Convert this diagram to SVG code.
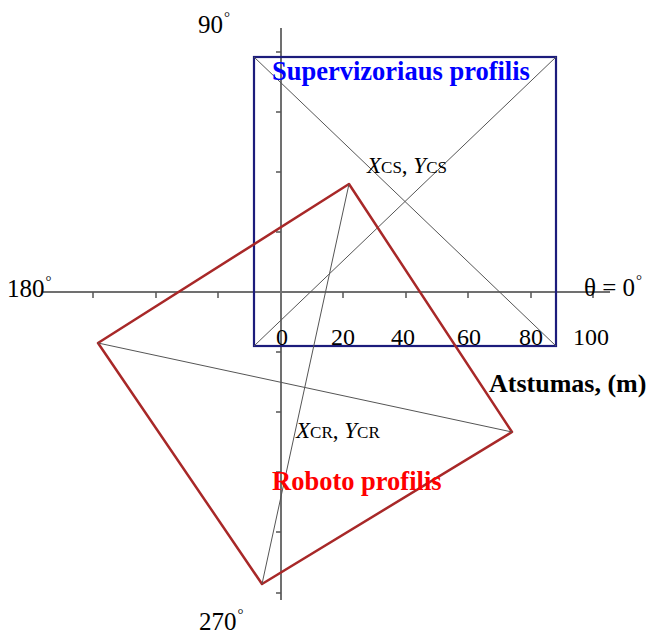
<svg xmlns="http://www.w3.org/2000/svg" width="652" height="634" viewBox="0 0 652 634">
<style>
.t{font-family:"Liberation Serif","Times New Roman",serif;fill:#000}
.b{font-weight:bold}
.ax{stroke:#707070;stroke-width:2;fill:none}
.tk{stroke:#555;stroke-width:1.5;fill:none}
.dg{stroke:#555;stroke-width:1;fill:none}
.deg{font-size:15px}
</style>
<rect width="652" height="634" fill="#fff"/>
<g id="axes">
<line class="ax" x1="281" y1="28" x2="281" y2="600"/>
<line class="ax" x1="43" y1="292" x2="610" y2="292"/>
<path class="tk" d="M276 52H281M276 112H281M276 172H281M276 232H281M276 352H281M276 412H281M276 472H281M276 532H281M276 593H281"/>
<path class="tk" d="M93 292V298M156 292V298M218 292V298M343 292V298M406 292V298M468 292V298M531 292V298M593 292V298"/>
</g>
<g id="supervisor">
<rect x="254" y="57" width="302" height="289" fill="none" stroke="#1c1c7c" stroke-width="2.2"/>
<line class="dg" x1="254" y1="57" x2="556" y2="346"/>
<line class="dg" x1="254" y1="346" x2="556" y2="57"/>
<text class="t b" x="272" y="80" font-size="26.5" style="fill:#0000ff">Supervizoriaus profilis</text>
<text class="t" x="367" y="173" font-size="23"><tspan font-style="italic">X</tspan><tspan font-size="17">CS</tspan>, <tspan font-style="italic">Y</tspan><tspan font-size="17">CS</tspan></text>
</g>
<g id="robot">
<polygon points="349,184 98,343 262,584 512,432" fill="none" stroke="#a82828" stroke-width="2.5" stroke-linejoin="round"/>
<line class="dg" x1="98" y1="343" x2="512" y2="432"/>
<line class="dg" x1="349" y1="184" x2="262" y2="584" stroke="#222"/>
<text class="t" x="296" y="438" font-size="23"><tspan font-style="italic">X</tspan><tspan font-size="17">CR</tspan>, <tspan font-style="italic">Y</tspan><tspan font-size="17">CR</tspan></text>
<text class="t b" x="272" y="490" font-size="26.5" style="fill:#ff0000">Roboto profilis</text>
</g>
<g id="labels">
<text class="t" x="198" y="33" font-size="25">90<tspan class="deg" dx="1" dy="-11">°</tspan></text>
<text class="t" x="7" y="297" font-size="25">180<tspan class="deg" dx="1" dy="-11">°</tspan></text>
<text class="t" x="584" y="296" font-size="25">θ = 0<tspan class="deg" dx="1" dy="-11">°</tspan></text>
<text class="t" x="199" y="630" font-size="25">270<tspan class="deg" dx="1" dy="-11">°</tspan></text>
<text class="t" x="276" y="345" font-size="24">0</text>
<text class="t" x="331" y="345" font-size="24">20</text>
<text class="t" x="391" y="345" font-size="24">40</text>
<text class="t" x="457" y="345" font-size="24">60</text>
<text class="t" x="519" y="345" font-size="24">80</text>
<text class="t" x="573" y="345" font-size="24">100</text>
<text class="t b" x="489" y="392" font-size="26">Atstumas, (m)</text>
</g>
</svg>
